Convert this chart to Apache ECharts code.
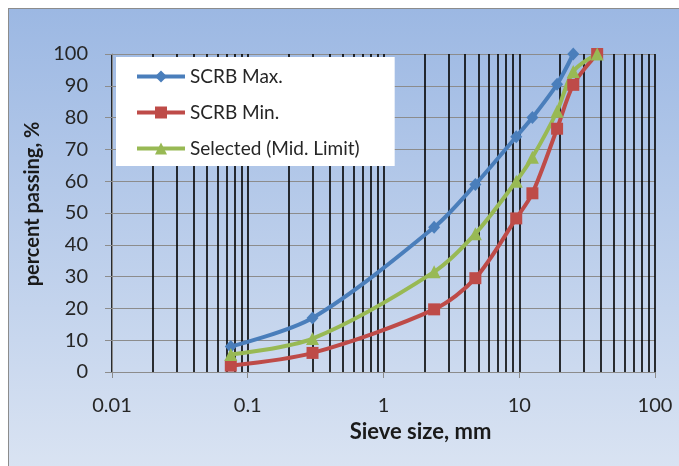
<!DOCTYPE html>
<html><head><meta charset="utf-8">
<script src="https://cdn.jsdelivr.net/npm/echarts@6/dist/echarts.min.js"></script>
<style>
html,body{margin:0;padding:0;background:#fff;overflow:hidden;}
#frame{position:absolute;left:8px;top:8px;width:690px;height:480px;border:1px solid #8c8c8c;background:linear-gradient(to bottom,#9cb8e3 0%,#dce5f3 100%);}
#chart{position:absolute;left:0;top:0;width:679px;height:466px;}
</style></head><body>
<div id="frame"></div><div id="chart"></div>
<script>
// Sieve sizes (mm)
const sizesMax = [0.075, 0.3, 2.36, 4.75, 9.5, 12.5, 19, 25];
const scrbMax  = [8, 17, 45.5, 59, 74, 80, 90.5, 100];
const sizesMin = [0.075, 0.3, 2.36, 4.75, 9.5, 12.5, 19, 25, 37.5];
const scrbMin  = [2, 6, 19.7, 29.5, 48.3, 56.2, 76.5, 90.3, 100];
const sizesSel = [0.075, 0.3, 2.36, 4.75, 9.5, 12.5, 19, 25, 37.5];
const selected = [5.5, 10.5, 31.5, 43.5, 60, 67.5, 82, 94.5, 100];
const seriesNames = ['SCRB Max.', 'SCRB Min.', 'Selected (Mid. Limit)'];
const yTicks = [0, 10, 20, 30, 40, 50, 60, 70, 80, 90, 100];
const xTicks = [0.01, 0.1, 1, 10, 100];
const gridDecades = [0.01, 0.1, 1, 10];
const gridMultipliers = [2, 3, 4, 5, 6, 7, 8, 9];

const minorLines = [];
gridDecades.forEach(d => gridMultipliers.forEach(m => minorLines.push({xAxis: +(d * m).toPrecision(3)})));

const pair = (xs, ys) => xs.map((x, i) => [x, ys[i]]);
const FONT = 'Lato';

const chart = echarts.init(document.getElementById('chart'), null, {renderer: 'canvas'});
chart.setOption({
  animation: false,
  backgroundColor: 'transparent',
  textStyle: {fontFamily: FONT},
  grid: {left: 112, right: 24, top: 54, bottom: 94, containLabel: false},
  legend: {
    z: 50, zlevel: 0,
    orient: 'vertical',
    left: 116, top: 57,
    padding: [10, 35, 8, 19],
    itemGap: 17,
    itemWidth: 48, itemHeight: 15,
    backgroundColor: '#ffffff',
    lineStyle: {width: 4},
    data: seriesNames,
    textStyle: {fontSize: 19, color: '#262626', fontFamily: FONT}
  },
  xAxis: {
    type: 'log', logBase: 10, min: xTicks[0], max: xTicks[xTicks.length - 1],
    name: 'Sieve size, mm', nameLocation: 'middle', nameGap: 45,
    nameTextStyle: {fontSize: 22, fontWeight: 'bold', color: '#1a1a1a', padding: [0, 0, 0, 74], fontFamily: FONT},
    axisLine: {show: true, lineStyle: {color: '#8c8c8c', width: 1}},
    axisTick: {show: true, length: 6, lineStyle: {color: '#8c8c8c'}},
    axisLabel: {fontSize: 20, color: '#262626', margin: 24, formatter: v => String(v)},
    splitLine: {show: true, lineStyle: {color: '#000', width: 1.6}}
  },
  yAxis: {
    type: 'value', min: yTicks[0], max: yTicks[yTicks.length - 1], interval: 10,
    name: 'percent passing, %', nameLocation: 'middle', nameGap: 68, nameRotate: 90,
    nameTextStyle: {fontSize: 20, fontWeight: 'bold', color: '#1a1a1a', padding: [0, 0, 0, 18], fontFamily: FONT},
    axisLine: {show: true, lineStyle: {color: '#8c8c8c', width: 1}},
    axisTick: {show: true, length: 7, lineStyle: {color: '#8c8c8c'}},
    axisLabel: {fontSize: 20, color: '#262626', margin: 24},
    splitLine: {show: true, lineStyle: {color: '#8c8c8c', width: 1}}
  },
  series: [
    {
      type: 'line', name: '_grid', data: [], z: 1, silent: true,
      markLine: {
        silent: true, symbol: ['none', 'none'], label: {show: false}, z: 1,
        lineStyle: {color: '#000', width: 1.6, type: 'solid'},
        emphasis: {disabled: true},
        data: minorLines
      }
    },
    {
      type: 'line', name: seriesNames[0], data: pair(sizesMax, scrbMax), smooth: 0.3,
      symbol: 'diamond', symbolSize: [12, 13],
      itemStyle: {color: '#4a7ebb'}, lineStyle: {color: '#4a7ebb', width: 4}, z: 3
    },
    {
      type: 'line', name: seriesNames[1], data: pair(sizesMin, scrbMin), smooth: 0.3,
      symbol: 'rect', symbolSize: 12,
      itemStyle: {color: '#be4b48'}, lineStyle: {color: '#be4b48', width: 4}, z: 3
    },
    {
      type: 'line', name: seriesNames[2], data: pair(sizesSel, selected), smooth: 0.3,
      symbol: 'triangle', symbolSize: 13,
      itemStyle: {color: '#98b954'}, lineStyle: {color: '#98b954', width: 4}, z: 3
    }
  ]
});
</script>
</body></html>
